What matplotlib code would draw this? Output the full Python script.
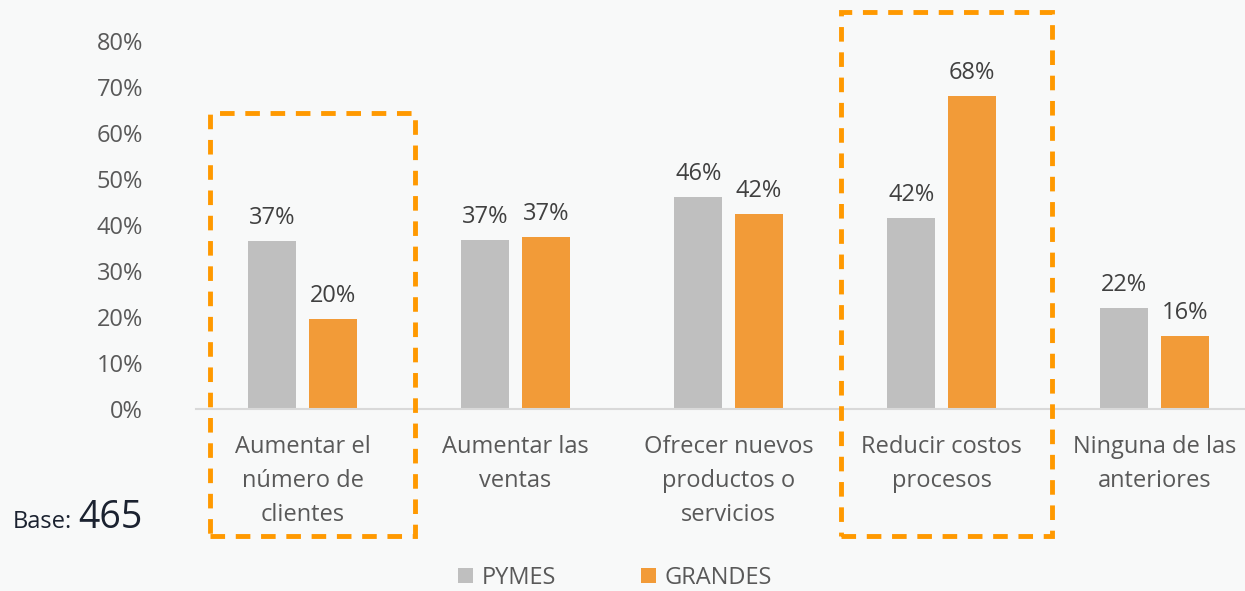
import matplotlib
matplotlib.use("Agg")
import matplotlib.pyplot as plt
from matplotlib.patches import Rectangle, Patch
import numpy as np

categories = ["Aumentar el\nnúmero de\nclientes", "Aumentar las\nventas",
              "Ofrecer nuevos\nproductos o\nservicios", "Reducir costos\nprocesos",
              "Ninguna de las\nanteriores"]
pymes = [36.6, 36.8, 46.1, 41.6, 22.0]
grandes = [19.5, 37.4, 42.4, 68.0, 15.9]
yticks = [0, 10, 20, 30, 40, 50, 60, 70, 80]
series_names = ["PYMES", "GRANDES"]

BG = "#F8F9F9"
GREY = "#BFBFBF"
ORANGE = "#F29B38"
DASH = "#FF9900"
FONT = "Open Sans"

plt.rcParams['font.family'] = [FONT, 'DejaVu Sans']

W, H = 1245, 591
fig = plt.figure(figsize=(W / 100, H / 100), dpi=100, facecolor=BG)
# axes from x=196 to 1261 px, y from 409 (0%) to 41 (80%)
left, right = 196, 1261
bottom, top = 409, 41
ax = fig.add_axes([left / W, 1 - bottom / H, (right - left) / W, (bottom - top) / H])
ax.set_facecolor(BG)
ax.patch.set_alpha(0)

x = np.arange(len(categories))
bw = 0.225
off = 0.142
b1 = ax.bar(x - off, pymes, bw, color=GREY, label=series_names[0])
b2 = ax.bar(x + off, grandes, bw, color=ORANGE, label=series_names[1])

for bars, vals in ((b1, pymes), (b2, grandes)):
    for r, v in zip(bars, vals):
        ax.annotate(f"{round(v):d}%", (r.get_x() + r.get_width() / 2, v),
                    xytext=(0, 8), textcoords="offset points",
                    ha="center", va="bottom", fontsize=17, color="#404040")

ax.set_xlim(-0.5, len(categories) - 0.5)
ax.set_ylim(0, 80)
ax.set_yticks(yticks)
ax.set_yticklabels([f"{t}%" for t in yticks], fontsize=17, color="#595959")
ax.set_xticks(x)
ax.set_xticklabels(categories, fontsize=17, color="#595959", linespacing=1.55)
ax.tick_params(axis="both", length=0)
ax.tick_params(axis="y", pad=38)
ax.tick_params(axis="x", pad=19)
for s in ("left", "right", "top"):
    ax.spines[s].set_visible(False)
ax.spines["bottom"].set_color("#D9D9D9")
ax.spines["bottom"].set_linewidth(1.5)

# dashed highlight boxes (annotation)
for (x0, x1, y0, y1) in [(-0.432, 0.526, -27.6, 64.3), (2.526, 3.521, -27.6, 86.3)]:
    rect = Rectangle((x0, y0), x1 - x0, y1 - y0, fill=False, edgecolor=DASH,
                     linewidth=3.5, linestyle=(0, (3, 2.2)), clip_on=False, zorder=5)
    ax.add_patch(rect)

fig.text(13 / W, 1 - 528 / H, "Base:", fontsize=17, color="#1B2230", ha="left", va="baseline")
fig.text(78 / W, 1 - 528 / H, "465", fontsize=27, color="#1B2230", ha="left", va="baseline")

handles = [Patch(facecolor=GREY), Patch(facecolor=ORANGE)]
fig.legend(handles, series_names, loc="center", bbox_to_anchor=(615 / W, 1 - 578 / H),
           ncol=2, frameon=False, fontsize=17, labelcolor="#595959",
           handlelength=0.63, handleheight=0.63, handletextpad=0.35,
           columnspacing=3.6, borderpad=0, borderaxespad=0)

fig.savefig("out.png", dpi=100, facecolor=BG)
